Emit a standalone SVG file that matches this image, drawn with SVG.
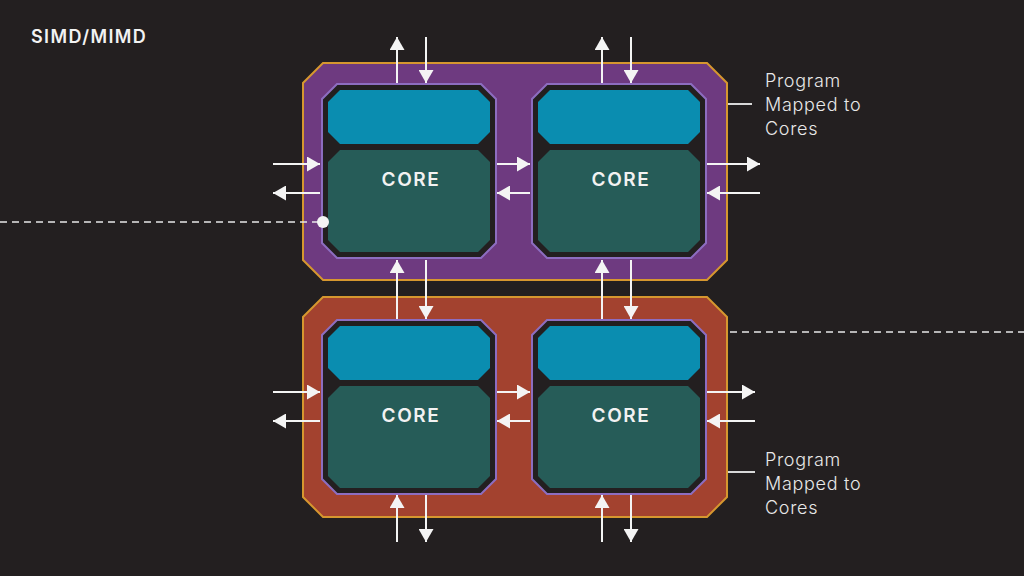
<svg xmlns="http://www.w3.org/2000/svg" width="1024" height="576" viewBox="0 0 1024 576">
<defs>
<style>
.bg{fill:#231f20}
.outer{stroke:#d6972f;stroke-width:2}
.purple{fill:#6e3a80}
.red{fill:#a3422f}
.shell{fill:#231f20;stroke:#8d6dc0;stroke-width:2}
.blue{fill:#0a8db0}
.green{fill:#265c58}
.core-t{font-family:Inter,"Liberation Sans",sans-serif;font-size:19px;font-weight:600;fill:#f2f2f2;text-anchor:middle;letter-spacing:1.6px}
.lab{font-family:Inter,"Liberation Sans",sans-serif;font-size:18px;font-weight:300;fill:#e8e8e8;letter-spacing:0.7px}
.title{font-family:Inter,"Liberation Sans",sans-serif;font-size:18px;font-weight:600;fill:#f2f2f2;letter-spacing:1.4px}
.arr{stroke:#f4f4f4;stroke-width:2;fill:none;marker-end:url(#ah)}
.lead{stroke:#d8d8d8;stroke-width:2;fill:none}
.dash{stroke:#e8e8e8;stroke-width:1.5;fill:none;stroke-dasharray:7 5}
</style>
<marker id="ah" markerUnits="userSpaceOnUse" markerWidth="14" markerHeight="15" refX="13" refY="7.5" orient="auto">
<path d="M0,0 L13,7.5 L0,15 z" fill="#f4f4f4"/>
</marker>
<g id="coreT">
<polygon class="shell" points="15,0 159,0 174,15 174,159 159,174 15,174 0,159 0,15"/>
<polygon class="blue" points="18,6 156,6 168,18 168,48 156,60 18,60 6,48 6,18"/>
<polygon class="green" points="18,66 156,66 168,78 168,156 156,168 18,168 6,156 6,78"/>
<text class="core-t" x="89" y="102">CORE</text>
</g>
</defs>
<rect class="bg" x="0" y="0" width="1024" height="576"/>
<text class="title" x="31" y="43">SIMD/MIMD</text>

<g id="cluster-top">
<polygon class="outer purple" points="323,63 707,63 727,83 727,260 707,280 323,280 303,260 303,83"/>
</g>
<g id="cluster-bottom">
<polygon class="outer red" points="323,297 707,297 727,317 727,497 707,517 323,517 303,497 303,317"/>
</g>

<g id="core-1"><use href="#coreT" x="322" y="84"/></g>
<g id="core-2"><use href="#coreT" x="532" y="84"/></g>
<g id="core-3"><use href="#coreT" x="322" y="320"/></g>
<g id="core-4"><use href="#coreT" x="532" y="320"/></g>

<g id="label-top">
<text class="lab" x="765" y="87">Program</text>
<text class="lab" x="765" y="111">Mapped to</text>
<text class="lab" x="765" y="135">Cores</text>
</g>
<g id="label-bottom">
<text class="lab" x="765" y="466">Program</text>
<text class="lab" x="765" y="490">Mapped to</text>
<text class="lab" x="765" y="514">Cores</text>
</g>

<g id="connectors">
<line class="arr" x1="397" y1="83" x2="397" y2="37"/>
<line class="arr" x1="426" y1="37" x2="426" y2="83"/>
<line class="arr" x1="602" y1="83" x2="602" y2="37"/>
<line class="arr" x1="631" y1="37" x2="631" y2="83"/>
<line class="arr" x1="397" y1="319" x2="397" y2="260"/>
<line class="arr" x1="426" y1="260" x2="426" y2="319"/>
<line class="arr" x1="602" y1="319" x2="602" y2="260"/>
<line class="arr" x1="631" y1="260" x2="631" y2="319"/>
<line class="arr" x1="397" y1="542" x2="397" y2="495"/>
<line class="arr" x1="426" y1="495" x2="426" y2="542"/>
<line class="arr" x1="602" y1="542" x2="602" y2="495"/>
<line class="arr" x1="631" y1="495" x2="631" y2="542"/>
<line class="arr" x1="273" y1="164" x2="320" y2="164"/>
<line class="arr" x1="320" y1="193" x2="273" y2="193"/>
<line class="arr" x1="497" y1="164" x2="530" y2="164"/>
<line class="arr" x1="530" y1="193" x2="497" y2="193"/>
<line class="arr" x1="707" y1="164" x2="760" y2="164"/>
<line class="arr" x1="760" y1="193" x2="707" y2="193"/>
<line class="arr" x1="273" y1="392" x2="320" y2="392"/>
<line class="arr" x1="320" y1="421" x2="273" y2="421"/>
<line class="arr" x1="497" y1="392" x2="530" y2="392"/>
<line class="arr" x1="530" y1="421" x2="497" y2="421"/>
<line class="arr" x1="707" y1="392" x2="755" y2="392"/>
<line class="arr" x1="755" y1="421" x2="707" y2="421"/>
<line class="lead" x1="728" y1="104" x2="752" y2="104"/>
<line class="lead" x1="728" y1="472" x2="755" y2="472"/>
<line class="dash" x1="0" y1="222" x2="323" y2="222"/>
<circle cx="323" cy="222" r="6" fill="#f4f4f4"/>
<line class="dash" x1="730" y1="332" x2="1024" y2="332"/>
</g>
</svg>
